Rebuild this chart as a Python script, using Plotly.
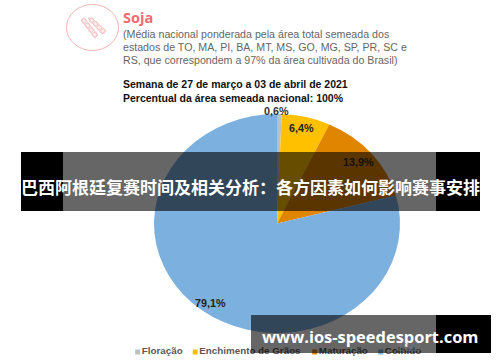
import plotly.graph_objects as go

stages = ["Floração", "Enchimento de Grãos", "Maturação", "Colhido"]
shares = [0.6, 6.4, 13.9, 79.1]
colors = ["#BFBFBF", "#FFC000", "#E08500", "#7CB0DF"]
label_texts = ["0,6%", "6,4%", "13,9%", "79,1%"]
label_xy = [(276, 111), (301, 128), (358, 162), (210, 303)]
legend_x = [137.7, 195.2, 314.7, 380.7]

W, H = 500, 362
CX, CY, RX, RY = 277, 223.5, 123, 109.5
def px(x): return x / W
def py(y): return 1 - y / H

fig = go.Figure()
fig.add_trace(go.Scatter(
    x=legend_x, y=[352] * 4, text=stages, mode="markers+text", textposition="middle right",
    marker=dict(symbol="square", size=5, color=colors, line=dict(width=0)),
    textfont=dict(size=9.8, color="#595959", family="Liberation Sans", weight="bold"),
    hoverinfo="text", showlegend=False, cliponaxis=False,
))
fig.add_trace(go.Pie(
    labels=stages, values=shares, sort=False, direction="clockwise", rotation=0,
    marker=dict(colors=colors, line=dict(width=0)),
    textinfo="none", hoverinfo="label+percent", showlegend=False,
    domain=dict(x=[px(CX - RY), px(CX + RY)], y=[py(CY + RY), py(CY - RY)]),
))

ann = []
def text(x, y, s, size, color, family="Liberation Sans", bold=False, anchor="left"):
    ann.append(dict(xref="paper", yref="paper", x=px(x), y=py(y), text=f"<b>{s}</b>" if bold else s,
                    showarrow=False, xanchor=anchor, yanchor="middle",
                    font=dict(size=size, color=color, family=family), borderpad=0, borderwidth=0))

text(123, 17, "Soja", 14.5, "#EE6B6E", "Open Sans", True)
text(123, 34, "(Média nacional ponderada pela área total semeada dos", 10.65, "#666666")
text(123, 47, "estados de TO, MA, PI, BA, MT, MS, GO, MG, SP, PR, SC e", 10.65, "#666666")
text(123, 60, "RS, que correspondem a 97% da área cultivada do Brasil)", 10.65, "#666666")
text(123, 84.5, "Semana de 27 de março a 03 de abril de 2021", 10.5, "#111111", bold=True)
text(123, 98.5, "Percentual da área semeada nacional: 100%", 10.5, "#111111", bold=True)
label_colors = ["#333333", "#222222", "#111111", "#222222"]
for s, (x, y), c in zip(label_texts, label_xy, label_colors):
    text(x, y, s, 10.8, c, bold=True, anchor="center")
text(250, 186, "巴西阿根廷复赛时间及相关分析：各方因素如何影响赛事安排", 17, "#FFFFFF", "Noto Sans CJK SC", True, "center")
text(370, 336, "www.ios-speedesport.com", 16.45, "#FFFFFF", "Open Sans", True, "center")
text(408, 346, "活泊回", 8, "#777777", "Noto Sans CJK SC", False, "center")

def rect(x0, y0, x1, y1, fill, layer="above"):
    return dict(type="rect", xref="paper", yref="paper", x0=px(x0), x1=px(x1), y0=py(y0), y1=py(y1),
                fillcolor=fill, line=dict(width=0), layer=layer)

def pod(pts):
    return "M " + " L ".join(f"{px(x)} {py(y)}" for x, y in pts) + " Z"

def seed(x, y):
    return dict(type="circle", xref="paper", yref="paper", x0=px(x - 2.2), x1=px(x + 2.2),
                y0=py(y - 2.2), y1=py(y + 2.2), line=dict(color="#F2B4B4", width=0.7),
                fillcolor="rgba(0,0,0,0)")

shapes = [
    rect(21, 152, 63, 211, "#000000"),
    rect(436, 152, 480, 211, "#000000"),
    rect(63, 152, 436, 211, "rgba(0,0,0,0.6)"),
    rect(251, 315, 436, 353, "rgba(0,0,0,0.6)"),
    rect(436, 315, 491, 353, "#000000"),
    dict(type="circle", xref="paper", yref="paper", x0=px(66.5), x1=px(118.5), y0=py(4.5), y1=py(50.5),
         line=dict(color="#F2B4B4", width=1), fillcolor="rgba(0,0,0,0)"),
    dict(type="path", xref="paper", yref="paper",
         path=pod([(81, 20), (84, 18), (98, 35), (95, 38)]),
         line=dict(color="#F4C0C0", width=0.8), fillcolor="rgba(242,180,180,0.2)"),
    dict(type="path", xref="paper", yref="paper",
         path=pod([(88, 18), (92, 18), (106, 31), (102, 34)]),
         line=dict(color="#F4C0C0", width=0.8), fillcolor="rgba(242,180,180,0.2)"),
]
shapes += [seed(x, y) for x, y in [(84, 21), (87.5, 25.5), (91, 30), (94.5, 34.5),
                                   (91.5, 20.5), (95.5, 24), (99.5, 27.5), (103, 31)]]

fig.update_layout(width=W, height=H, margin=dict(l=0, r=0, t=0, b=0), paper_bgcolor="#FFFFFF",
                  plot_bgcolor="#FFFFFF", shapes=shapes, annotations=ann, showlegend=False,
                  xaxis=dict(range=[0, W], visible=False, fixedrange=True),
                  yaxis=dict(range=[H, 0], visible=False, fixedrange=True))

# The reference pie is stretched horizontally: scale plotly's own pie layer about its centre.
post = f"""
document.documentElement.style.overflow='hidden';
document.body.style.margin='0';
var g=document.querySelector('.pielayer');
if(g){{g.setAttribute('transform','translate({CX},0) scale({RX/RY},1) translate({-CX},0)');}}
"""
fig.write_html("out.html", config=dict(displayModeBar=False), post_script=post)
